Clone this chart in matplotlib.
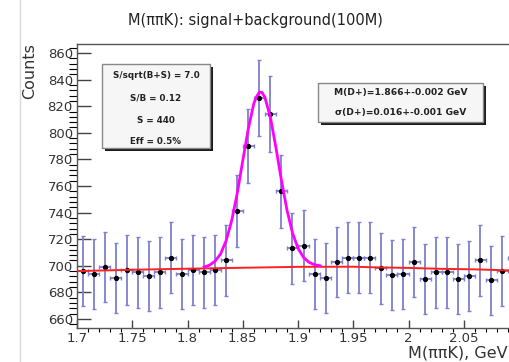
import numpy as np
import matplotlib
matplotlib.use('Agg')
import matplotlib.pyplot as plt
from matplotlib.patches import Rectangle
from matplotlib.lines import Line2D
from matplotlib.ticker import MultipleLocator, FuncFormatter

# histogram: M(pi pi K), 40 bins of 0.01 GeV from 1.70 to 2.10
mass_bins = np.round(np.arange(1.705, 2.10, 0.01), 3)
counts = [696, 694, 699, 691, 697, 695, 692, 695, 706, 694,
          697, 695, 697, 704, 741, 790, 826, 814, 756, 713,
          715, 694, 691, 703, 706, 706, 706, 698, 693, 694,
          703, 690, 695, 695, 690, 692, 704, 689, 696, 706]
count_err = [26.4, 26.3, 26.4, 26.3, 26.4, 26.4, 26.3, 26.4, 26.6, 26.3,
             26.4, 26.4, 26.4, 26.5, 27.2, 28.1, 28.7, 28.5, 27.5, 26.7,
             26.7, 26.3, 26.3, 26.5, 26.6, 26.6, 26.6, 26.4, 26.3, 26.3,
             26.5, 26.3, 26.4, 26.4, 26.3, 26.3, 26.5, 26.2, 26.4, 26.6]

# background fit (red)
bkg_mass = [1.70, 1.75, 1.80, 1.85, 1.90, 1.95, 1.97, 2.00, 2.03, 2.06, 2.10]
bkg_counts = [696.0, 697.0, 697.8, 698.5, 699.2, 699.3, 698.8, 698.4, 697.7, 697.3, 696.3]

# signal+background fit (magenta)
fit_mass = [1.815, 1.820, 1.825, 1.830, 1.835, 1.840, 1.845, 1.850, 1.855, 1.860,
            1.8625, 1.865, 1.8675, 1.870, 1.875, 1.880, 1.885, 1.890, 1.895, 1.900,
            1.905, 1.910, 1.915, 1.920]
fit_counts = [699.0, 700.5, 703.5, 709.0, 719.0, 734.0, 754.5, 779.0, 803.0, 822.0,
              827.2, 830.6, 830.3, 826.8, 811.7, 789.0, 764.3, 742.0, 724.8, 713.1,
              706.3, 702.6, 700.8, 700.0]

left_box = ['S/sqrt(B+S) = 7.0', 'S/B = 0.12', 'S = 440', 'Eff = 0.5%']
right_box = ['M(D+)=1.866+-0.002 GeV', '\u03c3(D+)=0.016+-0.001 GeV']

W, H = 510, 362
fig = plt.figure(figsize=(5.1, 3.62), dpi=100)
ax = fig.add_axes([77 / W, 1 - 328 / H, 442 / W, 284 / H])

ax.errorbar(mass_bins, counts, yerr=count_err, xerr=0.005, fmt='o', ms=2.8,
            mfc='black', mec='black', ecolor='#7f7fd0', elinewidth=1.3,
            capsize=1.5, capthick=1.0, zorder=2)
ax.plot(bkg_mass, bkg_counts, color='#ff2020', lw=1.4, zorder=3)
ax.plot(fit_mass, fit_counts, color='#ff00ff', lw=2.0, zorder=4)

ax.set_xlim(1.7, 2.1)
ax.set_ylim(653.2, 866.8)
ax.xaxis.set_major_locator(MultipleLocator(0.05))
ax.xaxis.set_minor_locator(MultipleLocator(0.01))
ax.yaxis.set_major_locator(MultipleLocator(20))
ax.yaxis.set_minor_locator(MultipleLocator(4))
ax.xaxis.set_major_formatter(FuncFormatter(lambda v, p: '%g' % round(v, 3)))
ax.tick_params(axis='both', direction='in', colors='#444444', labelcolor='#333333',
               labelsize=9.5)
ax.tick_params(axis='y', which='major', length=10, width=1.0, pad=3)
ax.tick_params(axis='y', which='minor', length=5.5, width=0.8)
ax.tick_params(axis='x', which='major', length=6, width=1.0, pad=3)
ax.tick_params(axis='x', which='minor', length=3, width=0.8)
for s in ax.spines.values():
    s.set_color('#555555')
    s.set_linewidth(1.0)

fig.text(255 / W, 1 - 20 / H, 'M(\u03c0\u03c0K): signal+background(100M)',
         ha='center', va='center', fontsize=10.5, color='#222222')
fig.text(30 / W, 1 - 43 / H, 'Counts', rotation=90, ha='center', va='top',
         fontsize=11.5, color='#333333')
fig.text(508 / W, 1 - 361 / H, 'M(\u03c0\u03c0K), GeV', ha='right', va='bottom',
         fontsize=11.5, color='#333333')

# light frame line at the left of the canvas
fig.add_artist(Line2D([20 / W, 20 / W], [0, 1], color='#d8d8d8', lw=1.0,
                      transform=fig.transFigure))


def pave(x0, y0, x1, y1, lines, line_y, size):
    # shadow then box, pixel coords from top-left
    fig.add_artist(Rectangle(((x0 + 3) / W, 1 - (y1 + 3) / H), (x1 - x0) / W, (y1 - y0) / H,
                             transform=fig.transFigure, facecolor='#1a1a1a',
                             edgecolor='none', zorder=5))
    fig.add_artist(Rectangle((x0 / W, 1 - y1 / H), (x1 - x0) / W, (y1 - y0) / H,
                             transform=fig.transFigure, facecolor='#f6f6f6',
                             edgecolor='#888888', lw=1.0, zorder=6))
    for txt, ly in zip(lines, line_y):
        fig.text((x0 + x1) / 2 / W, 1 - ly / H, txt, ha='center', va='center',
                 fontsize=size, fontweight='bold', color='#222222', zorder=7)


pave(102, 64, 210, 148, left_box, [76, 98, 120, 141], 6.3)
pave(318, 83, 483, 122, right_box, [93, 112], 6.6)

fig.savefig('out.png', dpi=100)
